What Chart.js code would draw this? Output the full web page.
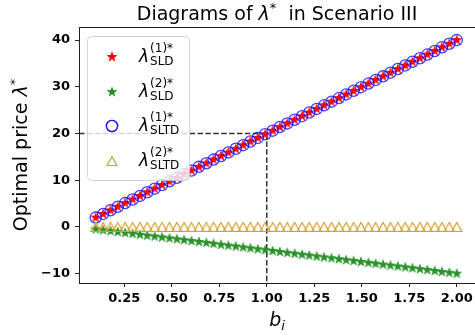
<!DOCTYPE html>
<html>
<head>
<meta charset="utf-8">
<script src="https://cdn.jsdelivr.net/npm/chart.js@4"></script>
<style>
  html, body { margin: 0; padding: 0; background: #fff; }
  #wrap { width: 475px; height: 336px; }
</style>
</head>
<body>
<div id="wrap"><canvas id="chart" width="475" height="336"></canvas></div>
<script>
// b_i values (x axis)
const bValues = [
  0.100, 0.139, 0.178, 0.216, 0.255, 0.294, 0.333, 0.371, 0.410, 0.449,
  0.488, 0.527, 0.565, 0.604, 0.643, 0.682, 0.720, 0.759, 0.798, 0.837,
  0.876, 0.914, 0.953, 0.992, 1.031, 1.069, 1.108, 1.147, 1.186, 1.224,
  1.263, 1.302, 1.341, 1.380, 1.418, 1.457, 1.496, 1.535, 1.573, 1.612,
  1.651, 1.690, 1.729, 1.767, 1.806, 1.845, 1.884, 1.922, 1.961, 2.000
];
const lambdaSLD1 = [
  2.00, 2.78, 3.55, 4.33, 5.10, 5.88, 6.65, 7.43, 8.20, 8.98,
  9.76, 10.53, 11.31, 12.08, 12.86, 13.63, 14.41, 15.18, 15.96, 16.73,
  17.51, 18.29, 19.06, 19.84, 20.61, 21.39, 22.16, 22.94, 23.71, 24.49,
  25.27, 26.04, 26.82, 27.59, 28.37, 29.14, 29.92, 30.69, 31.47, 32.24,
  33.02, 33.80, 34.57, 35.35, 36.12, 36.90, 37.67, 38.45, 39.22, 40.00
];
const lambdaSLD2 = [
  -0.50, -0.69, -0.89, -1.08, -1.28, -1.47, -1.66, -1.86, -2.05, -2.24,
  -2.44, -2.63, -2.83, -3.02, -3.21, -3.41, -3.60, -3.80, -3.99, -4.18,
  -4.38, -4.57, -4.77, -4.96, -5.15, -5.35, -5.54, -5.73, -5.93, -6.12,
  -6.32, -6.51, -6.70, -6.90, -7.09, -7.29, -7.48, -7.67, -7.87, -8.06,
  -8.26, -8.45, -8.64, -8.84, -9.03, -9.22, -9.42, -9.61, -9.81, -10.00
];
const lambdaSLTD1 = [
  2.00, 2.78, 3.55, 4.33, 5.10, 5.88, 6.65, 7.43, 8.20, 8.98,
  9.76, 10.53, 11.31, 12.08, 12.86, 13.63, 14.41, 15.18, 15.96, 16.73,
  17.51, 18.29, 19.06, 19.84, 20.61, 21.39, 22.16, 22.94, 23.71, 24.49,
  25.27, 26.04, 26.82, 27.59, 28.37, 29.14, 29.92, 30.69, 31.47, 32.24,
  33.02, 33.80, 34.57, 35.35, 36.12, 36.90, 37.67, 38.45, 39.22, 40.00
];
const lambdaSLTD2 = [
  0, 0, 0, 0, 0, 0, 0, 0, 0, 0,
  0, 0, 0, 0, 0, 0, 0, 0, 0, 0,
  0, 0, 0, 0, 0, 0, 0, 0, 0, 0,
  0, 0, 0, 0, 0, 0, 0, 0, 0, 0,
  0, 0, 0, 0, 0, 0, 0, 0, 0, 0
];

const xTicks = [0.25, 0.5, 0.75, 1.0, 1.25, 1.5, 1.75, 2.0];
const xTickLabels = ["0.25", "0.50", "0.75", "1.00", "1.25", "1.50", "1.75", "2.00"];
const yTicks = [-10, 0, 10, 20, 30, 40];
const yTickLabels = ["\u221210", "0", "10", "20", "30", "40"];

// reference point marked by the dashed lines
const refB = 1.0;
const refLambda = 20;

const seriesLabels = [
  { sup: "(1)*", sub: "SLD" },
  { sup: "(2)*", sub: "SLD" },
  { sup: "(1)*", sub: "SLTD" },
  { sup: "(2)*", sub: "SLTD" }
];

const FONT = "'DejaVu Sans', sans-serif";

// filled 5 point star like matplotlib's '*' marker
function makeStar(color, r) {
  const s = Math.ceil(r * 2 + 2);
  const c = document.createElement("canvas");
  c.width = s; c.height = s;
  const g = c.getContext("2d");
  g.fillStyle = color;
  g.beginPath();
  for (let k = 0; k < 10; k++) {
    const rad = k % 2 ? r * 0.4 : r;
    const a = -Math.PI / 2 + k * Math.PI / 5;
    g.lineTo(s / 2 + rad * Math.cos(a), s / 2 + rad * Math.sin(a));
  }
  g.closePath();
  g.fill();
  return c;
}

// open triangle, centred on its bounding box
function makeTriangle(color, w, h) {
  const s = Math.ceil(Math.max(w, h) + 4);
  const c = document.createElement("canvas");
  c.width = s; c.height = s;
  const g = c.getContext("2d");
  g.strokeStyle = color;
  g.lineWidth = 1.2;
  g.beginPath();
  g.moveTo(s / 2, (s - h) / 2);
  g.lineTo(s / 2 + w / 2, (s + h) / 2);
  g.lineTo(s / 2 - w / 2, (s + h) / 2);
  g.closePath();
  g.stroke();
  return c;
}

const redStar = makeStar("#ff0000", 5.8);
const greenStar = makeStar("#2a922a", 5.8);
const goldTri = makeTriangle("#d4a02c", 10, 9);

const pts = arr => bValues.map((b, i) => ({ x: b, y: arr[i] }));

const datasets = [
  { data: pts(lambdaSLD1), pointStyle: redStar, pointRadius: 5, order: 4 },
  { data: pts(lambdaSLD2), pointStyle: greenStar, pointRadius: 5, order: 3 },
  { data: pts(lambdaSLTD1), pointStyle: "circle", pointRadius: 5.6,
    borderColor: "rgba(0,0,255,0.75)", backgroundColor: "rgba(0,0,0,0)",
    pointBorderWidth: 1.3, order: 2 },
  { data: pts(lambdaSLTD2), pointStyle: goldTri, pointRadius: 5, order: 1 }
];

function drawMathLabel(ctx, x, cy, sup, sub) {
  ctx.fillStyle = "#000";
  ctx.textAlign = "left";
  ctx.textBaseline = "alphabetic";
  ctx.font = "italic 17px " + FONT;
  ctx.fillText("\u03bb", x, cy + 5);
  const w = ctx.measureText("\u03bb").width;
  ctx.font = "12px " + FONT;
  ctx.fillText(sup, x + w + 1, cy - 5);
  ctx.fillText(sub, x + w + 1, cy + 8);
}

const decorPlugin = {
  id: "decor",
  beforeDatasetsDraw(chart) {
    const { ctx, scales: { x, y }, chartArea: a } = chart;
    const px = x.getPixelForValue(refB);
    const py = y.getPixelForValue(refLambda);
    ctx.save();
    ctx.strokeStyle = "rgba(0,0,0,0.8)";
    ctx.lineWidth = 1.5;
    ctx.setLineDash([5.5, 2.4]);
    ctx.beginPath();
    ctx.moveTo(a.left, py);
    ctx.lineTo(px, py);
    ctx.moveTo(px, py);
    ctx.lineTo(px, a.bottom);
    ctx.stroke();
    ctx.restore();
  },
  afterDraw(chart) {
    const { ctx, chartArea: a } = chart;
    ctx.save();
    // frame (right spine falls just outside the canvas)
    ctx.strokeStyle = "#222";
    ctx.lineWidth = 1;
    ctx.beginPath();
    ctx.moveTo(Math.round(a.left) + 0.5, Math.round(a.top) + 0.5);
    ctx.lineTo(a.right + 1, Math.round(a.top) + 0.5);
    ctx.stroke();

    // title
    const cx = (a.left + a.right) / 2;
    const parts = [
      { t: "Diagrams of ", f: "19px " + FONT, dy: 0 },
      { t: "\u03bb", f: "italic 19px " + FONT, dy: 0 },
      { t: "*", f: "13px " + FONT, dy: -8 },
      { t: "  in Scenario III", f: "19px " + FONT, dy: 0 }
    ];
    let total = 0;
    parts.forEach(p => { ctx.font = p.f; p.w = ctx.measureText(p.t).width; total += p.w; });
    let tx = cx - total / 2;
    ctx.fillStyle = "#000";
    ctx.textBaseline = "alphabetic";
    ctx.textAlign = "left";
    parts.forEach(p => { ctx.font = p.f; ctx.fillText(p.t, tx, 20 + p.dy); tx += p.w; });

    // x axis title: b_i
    ctx.font = "italic 19px " + FONT;
    const bw = ctx.measureText("b").width;
    ctx.font = "italic 13px " + FONT;
    const iw = ctx.measureText("i").width;
    let bx = cx - (bw + iw) / 2;
    ctx.font = "italic 19px " + FONT;
    ctx.fillText("b", bx, 326);
    ctx.font = "italic 13px " + FONT;
    ctx.fillText("i", bx + bw, 330);

    // y axis title
    ctx.save();
    ctx.translate(27, (a.top + a.bottom) / 2);
    ctx.rotate(-Math.PI / 2);
    const yp = [
      { t: "Optimal price ", f: "19px " + FONT, dy: 0 },
      { t: "\u03bb", f: "italic 19px " + FONT, dy: 0 },
      { t: "*", f: "13px " + FONT, dy: -8 }
    ];
    let yt = 0;
    yp.forEach(p => { ctx.font = p.f; p.w = ctx.measureText(p.t).width; yt += p.w; });
    let yx = -yt / 2;
    yp.forEach(p => { ctx.font = p.f; ctx.fillText(p.t, yx, p.dy); yx += p.w; });
    ctx.restore();

    // legend
    const lx = a.left + 8, ly = a.top + 9, lw = 102, lh = 144;
    ctx.beginPath();
    ctx.roundRect(lx + 0.5, ly + 0.5, lw, lh, 4);
    ctx.fillStyle = "rgba(255,255,255,0.8)";
    ctx.fill();
    ctx.strokeStyle = "rgba(204,204,204,0.8)";
    ctx.lineWidth = 1;
    ctx.stroke();
    const rowY = [21, 56, 90, 125];
    datasets.forEach((ds, i) => {
      const my = ly + rowY[i];
      const mx = lx + 25;
      ctx.strokeStyle = ds.borderColor || "#000";
      ctx.fillStyle = ds.backgroundColor || "#000";
      ctx.lineWidth = ds.pointBorderWidth || 1;
      Chart.helpers.drawPoint(ctx, {
        pointStyle: ds.pointStyle, radius: ds.pointRadius, rotation: 0,
        borderWidth: ds.pointBorderWidth || 1
      }, mx, my);
      if (ds.pointStyle === "circle") ctx.stroke();
      drawMathLabel(ctx, lx + 52, my, seriesLabels[i].sup, seriesLabels[i].sub);
    });
    ctx.restore();
  }
};

new Chart(document.getElementById("chart"), {
  type: "scatter",
  data: { datasets },
  options: {
    responsive: false,
    animation: false,
    layout: { autoPadding: false, padding: { top: 27, right: 0, left: 0, bottom: 0 } },
    plugins: { legend: { display: false }, tooltip: { enabled: false }, title: { display: false } },
    scales: {
      x: {
        type: "linear",
        min: 0.012,
        max: 2.096,
        afterBuildTicks: s => { s.ticks = xTicks.map(v => ({ value: v })); },
        afterFit: s => { s.height = 53; s.paddingLeft = 0; s.paddingRight = 0; },
        ticks: {
          autoSkip: false,
          maxRotation: 0,
          padding: 4,
          color: "#000",
          font: { family: FONT, size: 13, weight: "bold" },
          callback: (v, i) => xTickLabels[i]
        },
        grid: { drawOnChartArea: false, tickLength: 4, tickColor: "#222" },
        border: { color: "#222" }
      },
      y: {
        type: "linear",
        min: -12.0,
        max: 42.8,
        afterBuildTicks: s => { s.ticks = yTicks.map(v => ({ value: v })); },
        afterFit: s => { s.width = 79; s.paddingTop = 0; s.paddingBottom = 0; },
        ticks: {
          autoSkip: false,
          padding: 5,
          color: "#000",
          font: { family: FONT, size: 13, weight: "bold" },
          callback: (v, i) => yTickLabels[i]
        },
        grid: { drawOnChartArea: false, tickLength: 4, tickColor: "#222" },
        border: { color: "#222" }
      }
    }
  },
  plugins: [decorPlugin]
});
</script>
</body>
</html>
